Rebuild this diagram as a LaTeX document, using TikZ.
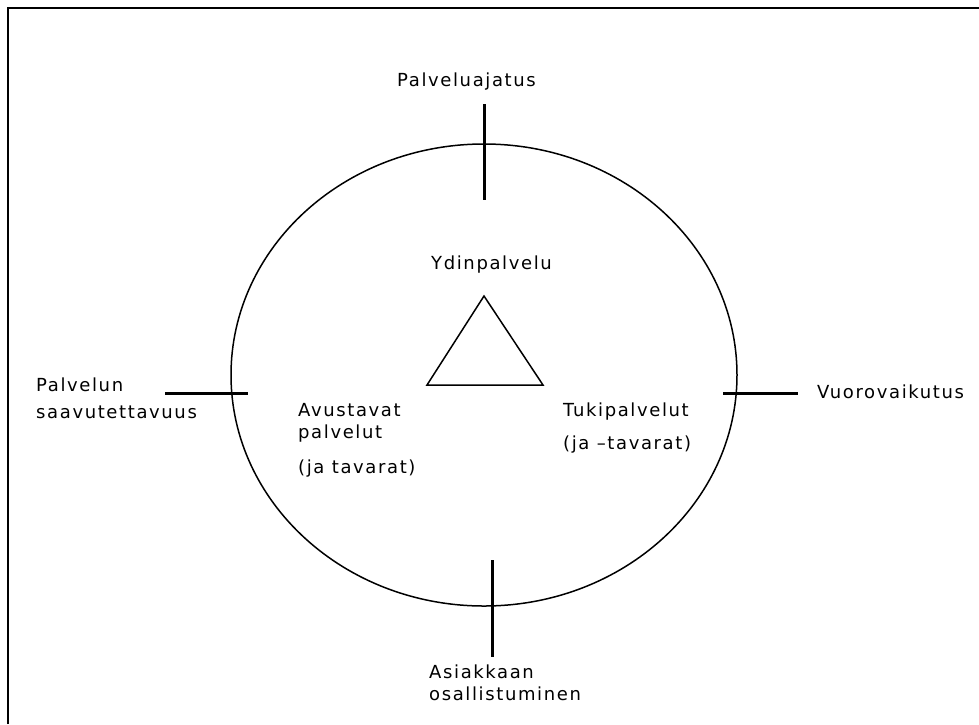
\documentclass[tikz,border=0pt]{standalone}
\usepackage{fontspec}
\usetikzlibrary{shapes.geometric}
\newfontfamily\labfont[LetterSpace=9]{DejaVu Sans}
\begin{document}
\begin{tikzpicture}[x=1pt,y=-1pt,
  lab/.style={inner sep=0pt,anchor=base west,font=\labfont\fontsize{18}{21}\selectfont},
  tick/.style={line width=3pt},
  thin/.style={line width=1.5pt}]
\useasboundingbox (0,0) rectangle (979,724);
% frame (only top and left edges visible)
\draw[line width=2.6pt] (8,724) -- (8,8) -- (979,8);
% main ellipse
\node[draw,thin,ellipse,minimum width=506pt,minimum height=462pt,inner sep=0pt] (c) at (484,375) {};
% ticks
\coordinate (t1) at (484,104); \coordinate (t2) at (484,200);
\coordinate (b1) at (492,560); \coordinate (b2) at (492,657);
\coordinate (l1) at (165,393); \coordinate (l2) at (248,393);
\coordinate (r1) at (723,393); \coordinate (r2) at (798,393);
\draw[tick] (t1) -- (t2);
\draw[tick] (b1) -- (b2);
\draw[tick] (l1) -- (l2);
\draw[tick] (r1) -- (r2);
% triangle
\coordinate (apex) at (484,296);
\coordinate (bl) at (427,385);
\coordinate (br) at (543,385);
\draw[thin,line join=miter] (apex) -- (bl) -- (br) -- cycle;
% labels
\node[lab] (pa) at (397,86) {Palveluajatus};
\node[lab] (yd) at (431,269) {Ydinpalvelu};
\node[lab] (ps1) at (36,391) {Palvelun};
\node[lab] (ps2) at (36,418) {saavutettavuus};
\node[lab] (vu) at (817,398) {Vuorovaikutus};
\node[lab] (av1) at (298,416) {Avustavat};
\node[lab] (av2) at (298,438) {palvelut};
\node[lab] (av3) at (298,473) {(ja tavarat)};
\node[lab] (tu1) at (563,416) {Tukipalvelut};
\node[lab] (tu2) at (563,449) {(ja –tavarat)};
\node[lab] (as1) at (429,678) {Asiakkaan};
\node[lab] (as2) at (429,700) {osallistuminen};
\end{tikzpicture}
\end{document}
